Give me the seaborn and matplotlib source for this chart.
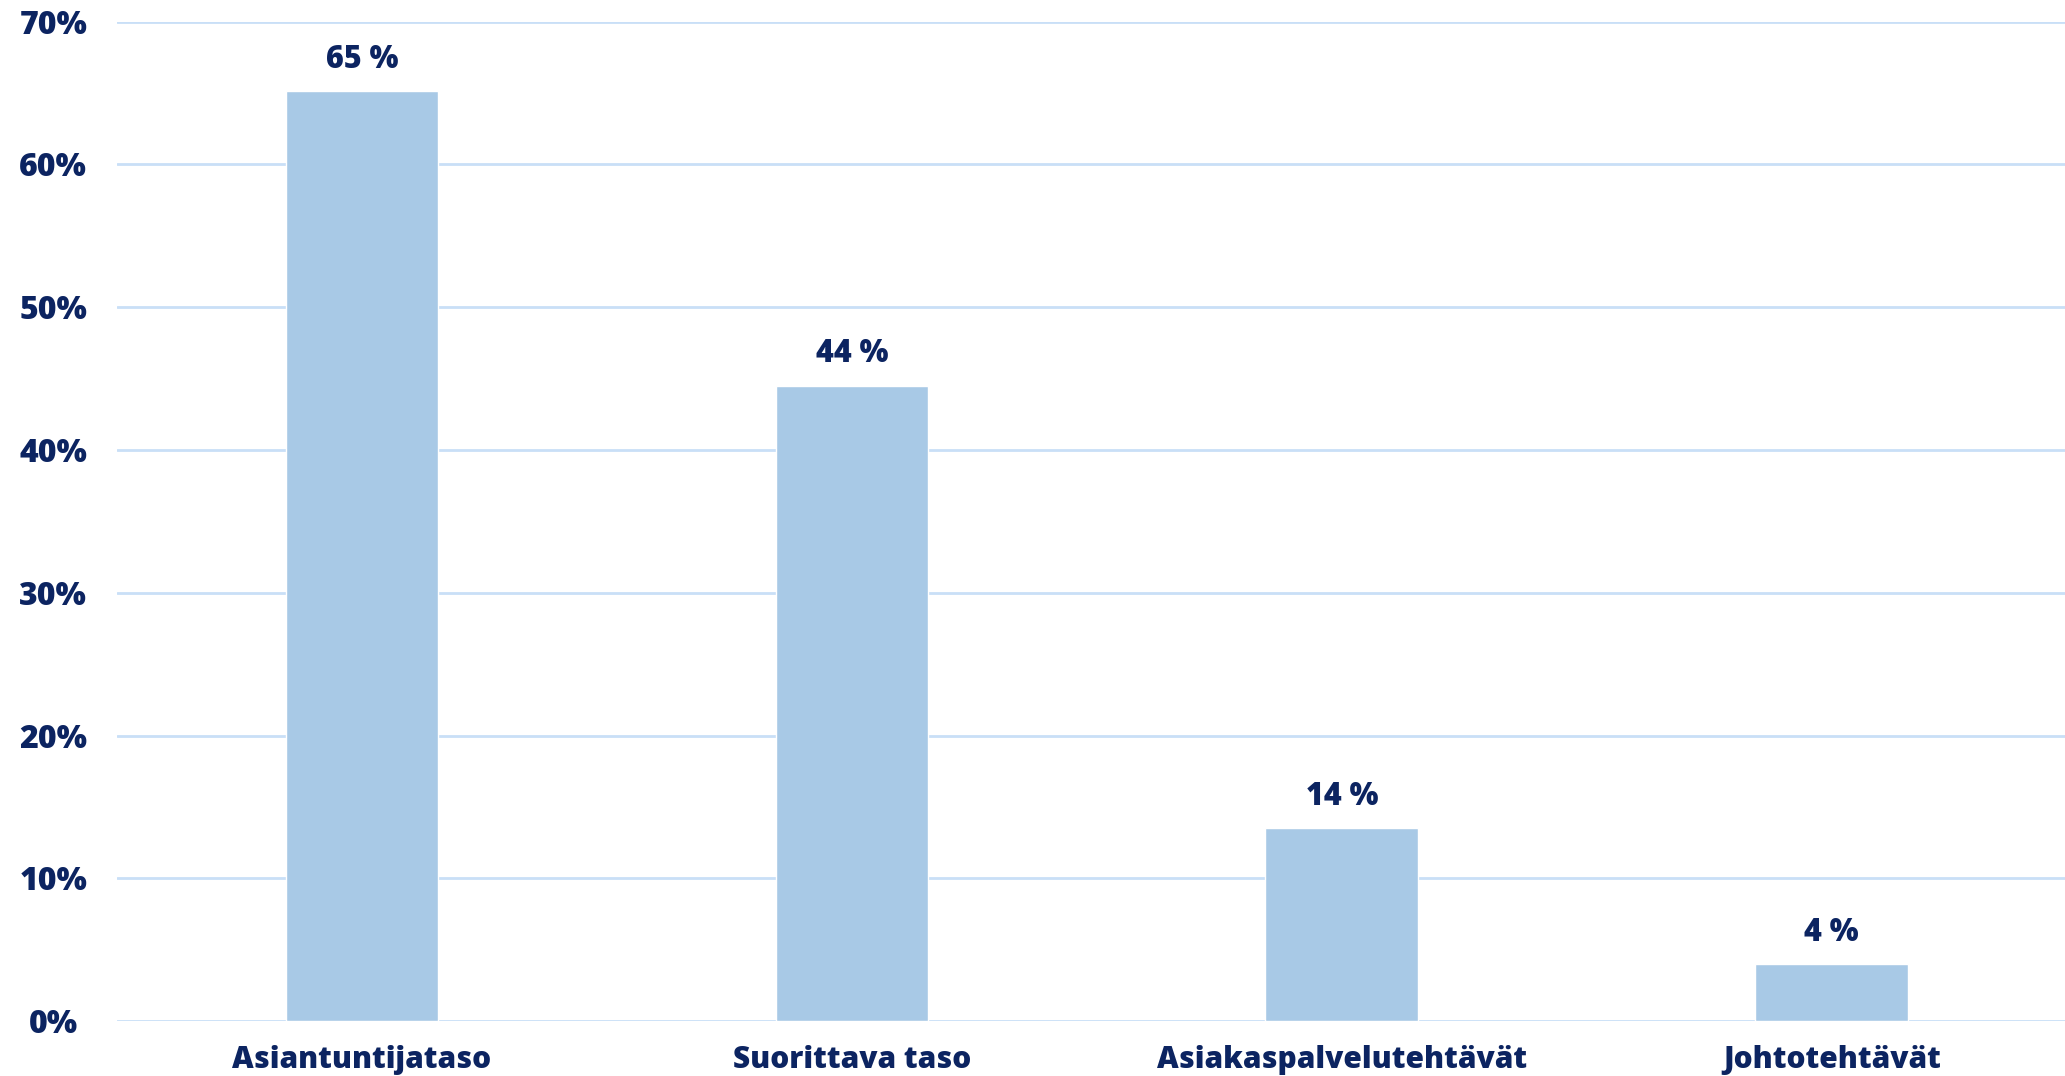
import matplotlib
matplotlib.use('Agg')
import matplotlib.pyplot as plt
import seaborn as sns
import pandas as pd

# chart data
categories = ['Asiantuntijataso', 'Suorittava taso', 'Asiakaspalvelutehtävät', 'Johtotehtävät']
shares = [65.1, 44.5, 13.5, 4.0]
value_labels = ['65 %', '44 %', '14 %', '4 %']
y_ticks = [0, 10, 20, 30, 40, 50, 60, 70]

navy = '#0c2461'
bar_color = '#a8c9e6'
grid_color = '#c9dff7'

sns.set_style('white')
plt.rcParams['font.family'] = ['Open Sans', 'DejaVu Sans']

df = pd.DataFrame({'cat': categories, 'val': shares})

fig = plt.figure(figsize=(20.65, 10.76), dpi=100)
ax = fig.add_axes([0.0567, 0.051, 0.949, 0.929])

# gridlines behind bars
for t in y_ticks:
    ax.axhline(t, color=grid_color, linewidth=2, zorder=0)

sns.barplot(data=df, x='cat', y='val', color=bar_color, width=0.312,
            saturation=1, ax=ax, zorder=2)

for i, (v, lab) in enumerate(zip(shares, value_labels)):
    ax.annotate(lab, (i, v), xytext=(0, 11), textcoords='offset points',
                ha='center', va='bottom', fontsize=22, fontweight='heavy', color=navy)

ax.set_ylim(0, 70)
ax.set_xlim(-0.5, 3.5)
ax.set_yticks(y_ticks)
ax.set_yticklabels([f'{t}%' for t in y_ticks])
for lbl in ax.get_yticklabels():
    lbl.set_horizontalalignment('center')
ax.tick_params(axis='y', length=0, pad=46, labelsize=23, labelcolor=navy)
ax.tick_params(axis='x', length=0, pad=17, labelsize=21.5, labelcolor=navy)
for lbl in ax.get_xticklabels() + ax.get_yticklabels():
    lbl.set_fontweight('heavy')

ax.set_xlabel('')
ax.set_ylabel('')
for s in ax.spines.values():
    s.set_visible(False)

fig.savefig('out.png', dpi=100)
